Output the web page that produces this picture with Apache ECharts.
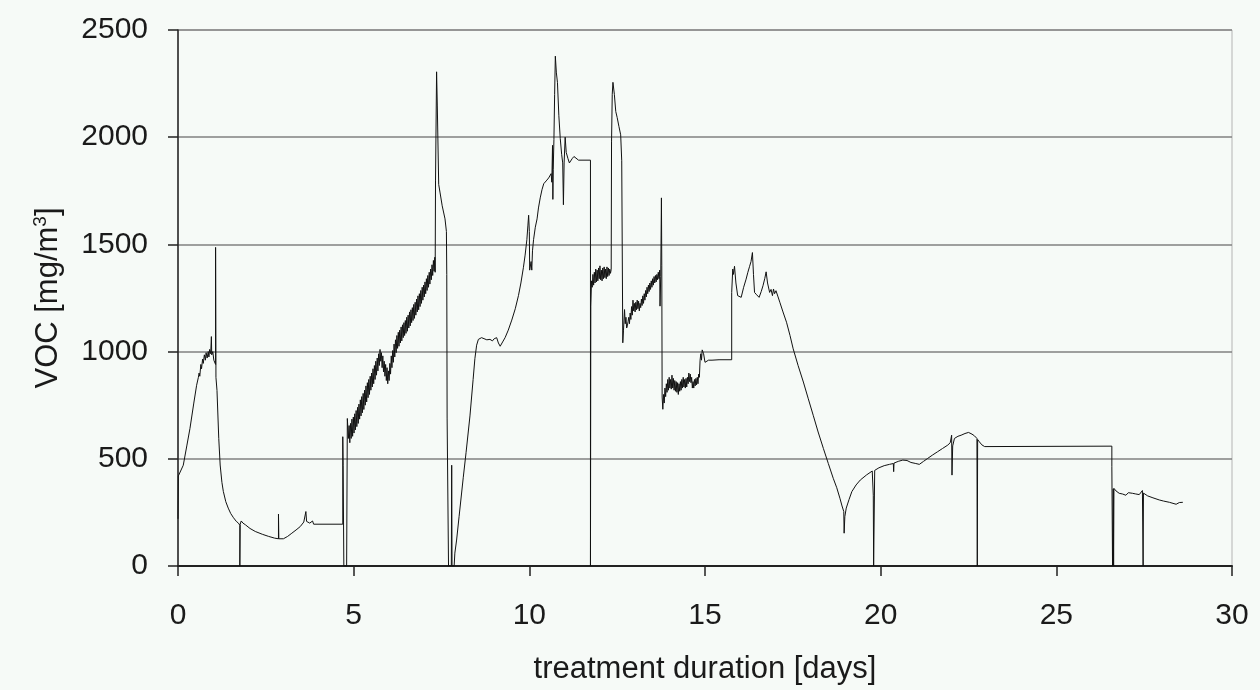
<!DOCTYPE html>
<html>
<head>
<meta charset="utf-8">
<script src="https://cdn.jsdelivr.net/npm/echarts@6/dist/echarts.min.js"></script>
<style>html,body{margin:0;padding:0;background:#f6faf7;}#c{width:1260px;height:690px;}</style>
</head>
<body>
<div id="c"></div>
<script>
// Values: [day, VOC mg/m3]
const startUp = [[0,220],[0.01,420],[0.15,470],[0.25,560],[0.34,641],[0.45,760],[0.53,843],
 [0.58,880],[0.6,900],[0.62,885],[0.65,940],[0.67,920],[0.7,965],[0.72,945],[0.75,985],[0.78,960],[0.8,995],[0.83,970],[0.86,1000],[0.88,975],[0.9,1010],[0.93,990],[0.95,1070],[0.96,985],[0.99,1000],[1.02,960],
 [1.07,940],[1.07,1486],[1.08,880],[1.11,819],[1.16,595],[1.2,471],[1.25,390],[1.29,348],[1.36,300],[1.43,270],[1.5,245],[1.58,225],[1.66,208],[1.72,200],[1.76,190],[1.76,0],[1.77,195],[1.8,210],[1.85,200],[1.92,192],[2.05,175],[2.2,161],[2.4,148],[2.58,138],[2.75,130],[2.86,127],[2.86,242],[2.87,127],[3.0,127],[3.12,138],[3.24,153],[3.36,168],[3.48,184],[3.58,205],[3.63,210],[3.64,254],[3.66,208],[3.75,200],[3.83,210],[3.86,195],[4.69,195],[4.69,603],[4.7,470],[4.72,471],[4.72,0],[4.8,0],[4.82,688]];

const firstRise = [[4.83,690],[4.85,595],[4.87,655],[4.89,575],[4.91,665],[4.93,595],[4.95,685],[4.97,605],[4.99,695],[5.01,620],[5.03,710],[5.05,635],[5.07,725],[5.09,650],[5.11,740],[5.13,665],[5.15,755],[5.17,685],[5.19,775],[5.21,700],[5.23,790],[5.25,715],[5.27,805],[5.29,730],[5.31,820],[5.33,750],[5.35,840],[5.37,765],[5.39,855],[5.41,785],[5.43,870],[5.45,800],[5.47,885],[5.49,820],[5.51,900],[5.53,835],[5.55,920],[5.57,850],[5.59,935],[5.61,870],[5.63,955],[5.65,890],[5.67,970],[5.69,910],[5.71,990],[5.73,935],[5.75,1010],[5.77,955],[5.79,995],[5.81,925],[5.83,980],[5.85,905],[5.87,955],[5.89,885],[5.91,940],[5.93,865],[5.95,925],[5.97,850],[5.99,910],[6.01,865],[6.03,945],[6.05,895],[6.07,980],[6.09,925],[6.11,1005],[6.13,950],[6.15,1035],[6.17,975],[6.19,1055],[6.21,995],[6.23,1075],[6.25,1015],[6.27,1090],[6.29,1025],[6.31,1100],[6.33,1040],[6.35,1115],[6.37,1050],[6.39,1125],[6.41,1065],[6.43,1135],[6.45,1075],[6.47,1145],[6.49,1085],[6.51,1160],[6.53,1095],[6.55,1170],[6.57,1110],[6.59,1185],[6.61,1120],[6.63,1195],[6.65,1135],[6.67,1205],[6.69,1145],[6.71,1220],[6.73,1155],[6.75,1230],[6.77,1170],[6.79,1245],[6.81,1185],[6.83,1260],[6.85,1195],[6.87,1270],[6.89,1210],[6.91,1285],[6.93,1225],[6.95,1300],[6.97,1240],[6.99,1310],[7.01,1255],[7.03,1325],[7.05,1270],[7.07,1340],[7.09,1285],[7.11,1355],[7.13,1300],[7.15,1370],[7.17,1315],[7.19,1385],[7.21,1335],[7.23,1405],[7.25,1355],[7.27,1425],[7.29,1375],[7.31,1440]];

const peakPhase = [[7.32,1370],[7.33,1800],[7.36,2305],[7.38,2150],[7.42,1780],[7.46,1740],[7.52,1680],[7.6,1619],[7.64,1560],[7.65,1359],[7.66,690],[7.70,0],[7.78,0],[7.79,470],[7.80,0],[7.86,0],[7.88,60],[7.93,121],[8.0,230],[8.12,414],[8.2,530],[8.31,700],[8.4,870],[8.45,967],[8.5,1030],[8.55,1057],[8.64,1065],[8.69,1060],[8.79,1055],[8.88,1057],[8.95,1050],[9.0,1060],[9.07,1065],[9.12,1040],[9.17,1025],[9.24,1045],[9.31,1065],[9.4,1100],[9.5,1147],[9.6,1200],[9.69,1261],[9.76,1320],[9.83,1391],[9.88,1450],[9.93,1522],[9.96,1590],[9.98,1636],[10.0,1560],[10.01,1380],[10.03,1375],[10.05,1420],[10.07,1380],[10.09,1470],[10.12,1522],[10.17,1580],[10.22,1619],[10.26,1670],[10.31,1717],[10.36,1755],[10.41,1783],[10.5,1800],[10.55,1810],[10.6,1815],[10.62,1830],[10.64,1790],[10.66,1962],[10.67,1710],[10.68,1850],[10.7,1990],[10.72,2200],[10.74,2378],[10.77,2300],[10.8,2256],[10.84,2100],[10.88,1994],[10.92,1920],[10.95,1880],[10.97,1685],[10.99,1880],[11.02,2000],[11.05,1929],[11.1,1900],[11.14,1880],[11.17,1888],[11.22,1900],[11.27,1910],[11.31,1905],[11.4,1893],[11.74,1893],[11.74,0],[11.75,1212],[11.77,1330]];

const secondPeak = [[11.79,1300],[11.81,1360],[11.83,1310],[11.85,1370],[11.87,1320],[11.89,1385],[11.91,1325],[11.93,1380],[11.95,1330],[11.97,1390],[11.99,1340],[12.01,1400],[12.03,1335],[12.05,1380],[12.07,1330],[12.09,1390],[12.11,1340],[12.13,1395],[12.15,1345],[12.17,1385],[12.19,1340],[12.21,1395],[12.23,1350],[12.25,1390],[12.27,1355],[12.29,1385],[12.31,1365],
 [12.33,1383],[12.34,1978],[12.36,2200],[12.38,2256],[12.42,2200],[12.46,2120],[12.5,2092],[12.55,2050],[12.6,2011],[12.63,1890],[12.64,1888],[12.66,1041],[12.68,1100],
 [12.71,1196],[12.73,1130],[12.75,1160],[12.77,1110],[12.79,1120],[12.81,1140],[12.83,1160],[12.85,1130],[12.87,1180],[12.89,1150],[12.91,1210],[12.93,1170],[12.95,1240],[12.97,1190],[12.99,1225],[13.01,1185],[13.03,1230],[13.05,1195],[13.07,1240],[13.09,1200],[13.11,1235],[13.13,1190],[13.15,1225],[13.17,1205],[13.19,1245],[13.21,1215],[13.23,1260],[13.25,1225],[13.27,1270],[13.29,1240],[13.31,1285],[13.33,1255],[13.35,1300],[13.37,1270],[13.39,1310],[13.41,1280],[13.43,1320],[13.45,1290],[13.47,1330],[13.49,1300],[13.51,1340],[13.53,1310],[13.55,1350],[13.57,1320],[13.59,1355],[13.61,1325],[13.63,1360],[13.65,1335],[13.67,1370],[13.69,1340],[13.71,1380],[13.72,1212],[13.74,1350],[13.76,1717],[13.77,1400],[13.78,788],[13.8,731]];

const midPlateau = [[13.82,800],[13.84,760],[13.86,830],[13.88,790],[13.9,850],[13.92,810],[13.94,870],[13.96,820],[13.98,880],[14.0,830],[14.02,870],[14.04,825],[14.06,890],[14.08,830],[14.1,875],[14.12,820],[14.14,865],[14.16,815],[14.18,860],[14.2,810],[14.22,855],[14.24,800],[14.26,850],[14.28,815],[14.3,860],[14.32,820],[14.34,870],[14.36,830],[14.38,880],[14.4,835],[14.42,870],[14.44,830],[14.46,875],[14.48,835],[14.5,880],[14.52,850],[14.54,900],[14.56,860],[14.58,895],[14.6,855],[14.62,880],[14.64,830],[14.66,860],[14.68,830],[14.7,870],[14.72,840],[14.74,875],[14.76,845],[14.78,880],[14.8,850],[14.82,895],[14.84,880],[14.86,960],[14.88,990],[14.9,960],[14.92,1008],[14.96,990],[15.0,950],[15.04,945],[15.1,960],[15.14,964],[15.2,960],[15.4,962],[15.76,962],
 [15.76,1276],[15.79,1385],[15.81,1360],[15.84,1398],[15.88,1320],[15.93,1261],[15.98,1270],[16.03,1253],[16.1,1300],[16.17,1338],[16.22,1370],[16.27,1398],[16.31,1420],[16.35,1462],[16.38,1360],[16.41,1276],[16.47,1265],[16.54,1253],[16.6,1280],[16.65,1307],[16.7,1340],[16.74,1372],[16.78,1320],[16.84,1276],[16.88,1290],[16.92,1261],[16.95,1292],[16.98,1270],[17.02,1284],[17.08,1255],[17.13,1230],[17.22,1185],[17.32,1137],[17.42,1075],[17.51,1013],[17.65,935],[17.8,858],[17.94,780],[18.08,703],[18.22,625],[18.37,548],[18.51,478],[18.65,409],[18.75,365],[18.84,316],[18.9,280],[18.95,254],[18.96,153],[18.98,230],[19.02,270],[19.1,310],[19.18,347],[19.3,378],[19.42,401],[19.6,425],[19.76,443]];

const finalPhase = [[19.78,443],[19.79,330],[19.8,0],[19.82,0],[19.83,446],[19.95,458],[20.1,468],[20.25,474],[20.36,478],[20.37,440],[20.38,480],[20.5,488],[20.63,494],[20.75,492],[20.86,483],[21.0,478],[21.1,474],[21.22,488],[21.34,502],[21.48,518],[21.62,533],[21.76,548],[21.91,564],[21.98,575],[22.02,610],[22.03,424],[22.05,560],[22.1,595],[22.2,605],[22.29,610],[22.4,618],[22.5,623],[22.6,615],[22.67,607],[22.74,595],[22.75,0],[22.76,590],[22.81,579],[22.88,565],[22.96,557],[23.0,559],[26.58,559],[26.58,463],[26.6,0],[26.62,360],[26.63,0],[26.64,362],[26.7,350],[26.79,339],[26.88,336],[26.98,330],[27.05,342],[27.1,335],[27.17,339],[27.26,336],[27.36,333],[27.45,352],[27.47,0],[27.48,340],[27.6,327],[27.75,318],[27.93,308],[28.05,303],[28.22,297],[28.41,288],[28.5,296],[28.6,297]];

const xTicks = {min: 0, max: 30, step: 5};
const yTicks = {min: 0, max: 2500, step: 500};

const series = [].concat(startUp, firstRise, peakPhase, secondPeak, midPlateau, finalPhase);

const chart = echarts.init(document.getElementById('c'));
const font = 'Liberation Sans, Arial, sans-serif';
chart.setOption({
  backgroundColor: '#f6faf7',
  animation: false,
  grid: {left: 178, right: 28, top: 30, bottom: 122, show: true, borderColor: '#b4b4b4', borderWidth: 1, backgroundColor: 'transparent'},
  xAxis: {
    type: 'value', min: xTicks.min, max: xTicks.max, interval: xTicks.step,
    name: 'treatment duration [days]', nameLocation: 'middle', nameGap: 88,
    nameTextStyle: {fontFamily: font, fontSize: 31, color: '#1a1a1a'},
    axisLine: {show: true, onZero: false, lineStyle: {color: '#222', width: 2}},
    axisTick: {show: true, length: 10, lineStyle: {color: '#222', width: 1.5}},
    axisLabel: {fontFamily: font, fontSize: 30, color: '#1a1a1a', margin: 35, formatter: v => String(v)},
    splitLine: {show: false}
  },
  yAxis: {
    type: 'value', min: yTicks.min, max: yTicks.max, interval: yTicks.step,
    name: 'VOC [mg/m{sup|3}]', nameLocation: 'middle', nameGap: 112, nameRotate: 90,
    nameTextStyle: {fontFamily: font, fontSize: 31, color: '#1a1a1a',
      rich: {sup: {fontFamily: font, fontSize: 19, color: '#1a1a1a', padding: [0, 0, 16, 0]}}},
    axisLine: {show: true, lineStyle: {color: '#222', width: 1.5}},
    axisTick: {show: true, length: 10, lineStyle: {color: '#222', width: 1.5}},
    axisLabel: {fontFamily: font, fontSize: 30, color: '#1a1a1a', margin: 30, formatter: v => String(v)},
    splitLine: {show: true, lineStyle: {color: '#808080', width: 1.5}}
  },
  series: [{
    type: 'line', data: series, showSymbol: false, symbol: 'none', sampling: null,
    lineStyle: {color: '#111', width: 1}, z: 3
  }]
});
</script>
</body>
</html>
